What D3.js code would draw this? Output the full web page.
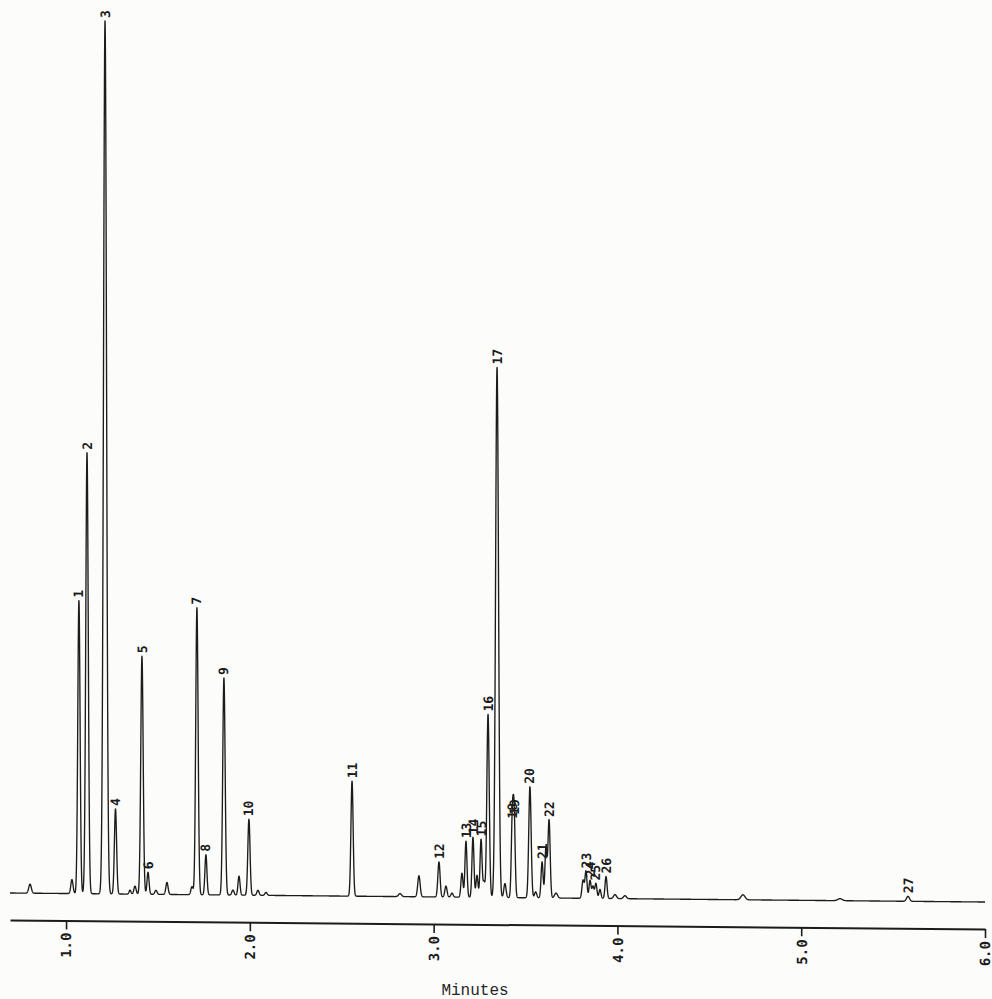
<!DOCTYPE html>
<html>
<head>
<meta charset="utf-8">
<script src="https://cdn.jsdelivr.net/npm/d3@7"></script>
<style>
  body { margin: 0; background: #fcfcfa; }
  svg { display: block; }
</style>
</head>
<body>
<svg id="chart"></svg>
<script>
// retention time (min), height (signal units), peak sigma (min), printed peak number
const peakTimes = [0.804, 1.032, 1.070, 1.114, 1.212, 1.269, 1.348, 1.375, 1.413, 1.446,
  1.489, 1.549, 1.685, 1.712, 1.761, 1.859, 1.908, 1.941, 1.995, 2.044,
  2.088, 2.556, 2.817, 2.920, 3.029, 3.067, 3.100, 3.154, 3.176, 3.214,
  3.236, 3.258, 3.274, 3.296, 3.345, 3.388, 3.428, 3.438, 3.524, 3.555,
  3.590, 3.611, 3.628, 3.666, 3.813, 3.829, 3.851, 3.867, 3.883, 3.905,
  3.938, 3.987, 4.041, 4.683, 5.211, 5.581];
const peakHeights = [9, 14, 293, 441, 873, 85, 4, 8, 238, 22,
  4, 12, 8, 287, 40, 217, 5, 19, 76, 5,
  3, 115, 3, 21, 35, 11, 4, 24, 56, 60,
  22, 58, 15, 183, 530, 14, 76, 80, 111, 6,
  36, 50, 78, 5, 18, 27, 18, 12, 15, 9,
  22, 4, 3, 5, 2, 5];
const peakWidths = [0.007, 0.006, 0.0062, 0.0068, 0.0082, 0.006, 0.005, 0.006, 0.0065, 0.0055,
  0.006, 0.006, 0.006, 0.0065, 0.0055, 0.0065, 0.006, 0.0055, 0.006, 0.006,
  0.006, 0.006, 0.008, 0.0065, 0.006, 0.006, 0.006, 0.0055, 0.0055, 0.0055,
  0.0055, 0.0055, 0.0055, 0.0065, 0.008, 0.006, 0.0055, 0.0055, 0.0065, 0.006,
  0.0055, 0.0055, 0.006, 0.008, 0.006, 0.0055, 0.0055, 0.0055, 0.0055, 0.0055,
  0.0055, 0.008, 0.008, 0.011, 0.012, 0.008];
const peakLabels = ["", "", "1", "2", "3", "4", "", "", "5", "6",
  "", "", "", "7", "8", "9", "", "", "10", "",
  "", "11", "", "", "12", "", "", "", "13", "14",
  "", "15", "", "16", "17", "", "18", "19", "20", "",
  "21", "", "22", "", "", "23", "24", "", "25", "",
  "26", "", "", "", "", "27"];

const tickValues = [1, 2, 3, 4, 5, 6];
const tickLabels = ["1.0", "2.0", "3.0", "4.0", "5.0", "6.0"];
const axisTitle = "Minutes";

const width = 992;
const height = 999;
const ink = "#1c1c1c";

const svg = d3.select("#chart")
  .attr("width", width)
  .attr("height", height)
  .style("background", "#fcfcfa");

const xScale = d3.scaleLinear().domain([0.695, 6.0]).range([10, 985]);
const yScale = d3.scaleLinear().domain([0, 880]).range([893, 13]);

// the scanned plot is slightly tilted: axis and baseline drop to the right
const plot = svg.append("g")
  .attr("transform", "translate(10,0) skewY(0.53) translate(-10,0)");

const signalAt = t => {
  let s = 0;
  peakTimes.forEach((p, i) => {
    const w = peakWidths[i];
    const d = (t - p) / w;
    if (Math.abs(d) < 7) s += peakHeights[i] * Math.exp(-0.5 * d * d);
  });
  return s;
};

const times = d3.range(0.695, 6.0001, 0.0005);
const trace = times.map(t => [t, signalAt(t)]);

const line = d3.line()
  .x(d => xScale(d[0]))
  .y(d => yScale(d[1]));

plot.append("path")
  .datum(trace)
  .attr("fill", "none")
  .attr("stroke", ink)
  .attr("stroke-width", 1.35)
  .attr("stroke-linejoin", "round")
  .attr("d", line);

// peak numbers, written upward from the apex
plot.selectAll("text.peak")
  .data(peakTimes.map((t, i) => ({t: t, h: peakHeights[i], label: peakLabels[i]})).filter(d => d.label))
  .enter()
  .append("text")
  .attr("class", "peak")
  .attr("x", d => xScale(d.t))
  .attr("y", d => yScale(d.h) - 3)
  .attr("transform", d => `rotate(-90,${xScale(d.t)},${yScale(d.h) - 3})`)
  .attr("dy", "0.35em")
  .attr("text-anchor", "start")
  .style("font-family", "'DejaVu Sans Mono', monospace")
  .style("font-weight", "bold")
  .style("font-size", "13px")
  .attr("fill", ink)
  .text(d => d.label);

const xAxis = d3.axisBottom(xScale)
  .tickValues(tickValues)
  .tickFormat((d, i) => tickLabels[i])
  .tickSize(9)
  .tickSizeOuter(0);

const gx = plot.append("g")
  .attr("transform", "translate(0,920)")
  .call(xAxis);

gx.select(".domain").attr("stroke", ink).attr("stroke-width", 2);
gx.selectAll(".tick line").attr("stroke", ink).attr("stroke-width", 1.6);
gx.selectAll(".tick text")
  .attr("transform", "rotate(-90)")
  .attr("x", -12)
  .attr("y", 0)
  .attr("dy", "0.35em")
  .attr("text-anchor", "end")
  .attr("fill", ink)
  .style("font-family", "'DejaVu Sans Mono', monospace")
  .style("font-weight", "bold")
  .style("font-size", "14px");

svg.append("text")
  .attr("x", 475)
  .attr("y", 995)
  .attr("text-anchor", "middle")
  .attr("fill", "#262626")
  .style("font-family", "'Liberation Mono', 'Courier New', monospace")
  .style("font-size", "16px")
  .text(axisTitle);
</script>
</body>
</html>
